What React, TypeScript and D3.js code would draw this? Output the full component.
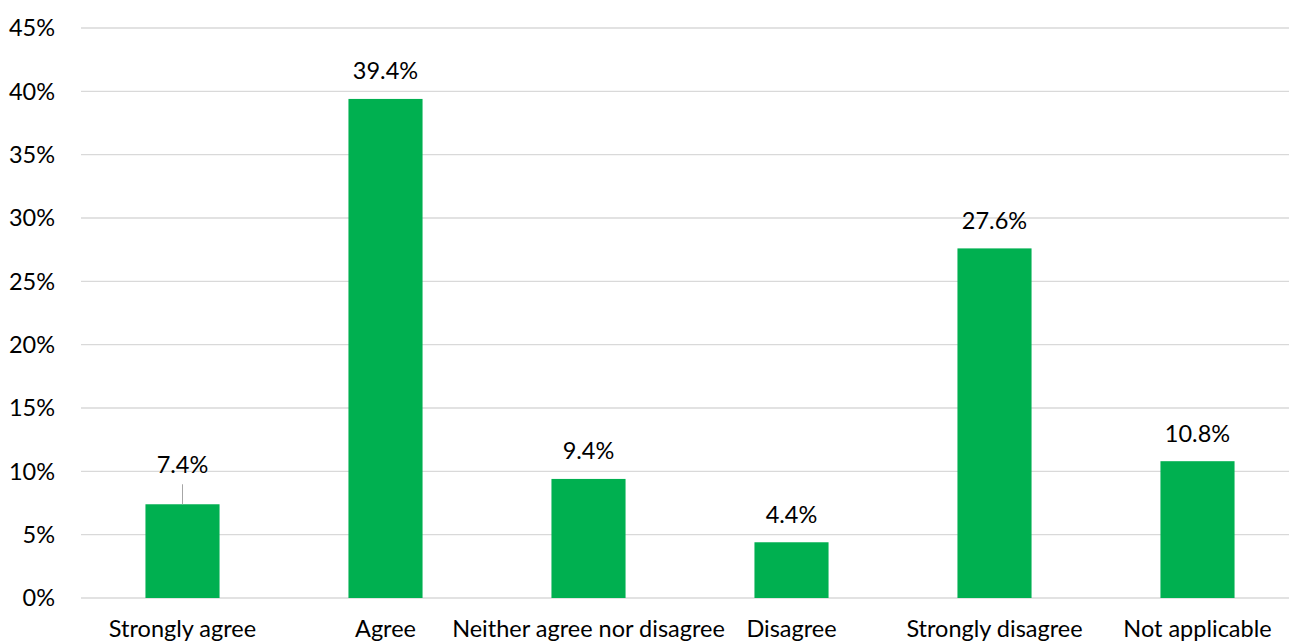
import React from "react";
import * as d3 from "d3";

const categories = ["Strongly agree", "Agree", "Neither agree nor disagree", "Disagree", "Strongly disagree", "Not applicable"];
const values = [7.4, 39.4, 9.4, 4.4, 27.6, 10.8];
const yTicks = [0, 5, 10, 15, 20, 25, 30, 35, 40, 45];

const W = 1289;
const H = 644;
const left = 81;
const right = 1299;
const top = 28;
const bottom = 598;
const FONT = "Lato, 'Open Sans', sans-serif";
const FS = 23.5;

export default function App() {
  const x = d3.scaleBand<string>().domain(categories).range([left, right]).paddingInner(0.635).paddingOuter(0.3175);
  const y = d3.scaleLinear().domain([0, 45]).range([bottom, top]);
  const bw = x.bandwidth();
  return (
    <svg width={W} height={H} style={{ position: "absolute", left: 0, top: 0, background: "#fff" }}>
      {yTicks.map((t) => (
        <g key={t}>
          <line x1={left} x2={W} y1={y(t)} y2={y(t)} stroke="#d9d9d9" strokeWidth={1.3} />
          <text x={55} y={y(t)} dy="0.36em" textAnchor="end" fontFamily={FONT} fontSize={FS} fill="#000">
            {t}%
          </text>
        </g>
      ))}
      {categories.map((c, i) => {
        const cx = (x(c) as number) + bw / 2;
        const v = values[i];
        const lifted = i === 0;
        const labelY = lifted ? y(v) - 31 : y(v) - 19.5;
        return (
          <g key={c}>
            <rect x={x(c)} y={y(v)} width={bw} height={bottom - y(v)} fill="#00b050" />
            {lifted && <line x1={cx} x2={cx} y1={y(v)} y2={y(v) - 20} stroke="#a6a6a6" strokeWidth={1} />}
            <text x={cx} y={labelY} textAnchor="middle" fontFamily={FONT} fontSize={FS} fill="#000">
              {v.toFixed(1)}%
            </text>
            <text x={cx} y={637} textAnchor="middle" fontFamily={FONT} fontSize={FS} fill="#000">
              {c}
            </text>
          </g>
        );
      })}
    </svg>
  );
}
